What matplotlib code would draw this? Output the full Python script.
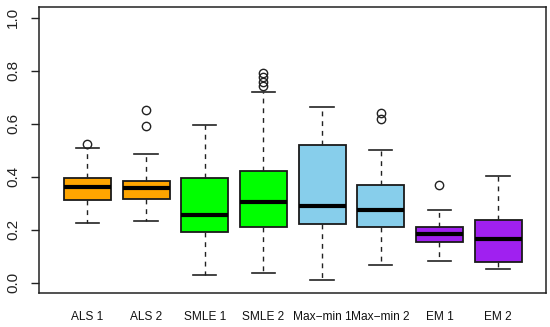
import matplotlib
matplotlib.use("Agg")
import matplotlib.pyplot as plt
from matplotlib import font_manager

labels = ["ALS 1", "ALS 2", "SMLE 1", "SMLE 2", "Max\u2212min 1", "Max\u2212min 2", "EM 1", "EM 2"]
whislo = [0.225, 0.232, 0.028, 0.038, 0.009, 0.067, 0.082, 0.053]
q1     = [0.313, 0.314, 0.190, 0.209, 0.220, 0.210, 0.155, 0.080]
med    = [0.362, 0.356, 0.256, 0.303, 0.290, 0.273, 0.184, 0.164]
q3     = [0.394, 0.385, 0.395, 0.420, 0.521, 0.367, 0.212, 0.236]
whishi = [0.508, 0.484, 0.596, 0.720, 0.662, 0.501, 0.273, 0.404]
fliers = [[0.524], [0.592, 0.652], [], [0.742, 0.757, 0.775, 0.792], [], [0.617, 0.642], [0.368], []]
colors = ["#FFA500", "#FFA500", "#00FF00", "#00FF00", "#87CEEB", "#87CEEB", "#A020F0", "#A020F0"]
yticks = [0.0, 0.2, 0.4, 0.6, 0.8, 1.0]

names = {f.name for f in font_manager.fontManager.ttflist}
base = "Liberation Sans" if "Liberation Sans" in names else "DejaVu Sans"

fig = plt.figure(figsize=(5.5, 3.27), dpi=100)
ax = fig.add_axes([0.0718, 0.103, 0.9209, 0.8756])

stats = []
for i in range(len(labels)):
    stats.append(dict(med=med[i], q1=q1[i], q3=q3[i], whislo=whislo[i],
                      whishi=whishi[i], fliers=fliers[i], label=labels[i]))

bp = ax.bxp(stats, positions=range(1, len(labels) + 1), widths=0.8,
            patch_artist=True, showfliers=True,
            boxprops=dict(edgecolor="#1a1a1a", linewidth=1.3),
            medianprops=dict(color="black", linewidth=3.0, solid_capstyle="butt"),
            whiskerprops=dict(color="#222222", linewidth=1.0, linestyle=(0, (3.5, 3.5))),
            capprops=dict(color="#222222", linewidth=1.2),
            flierprops=dict(marker="o", markerfacecolor="none", markeredgecolor="#222222",
                            markersize=6, markeredgewidth=1.0))
for patch, c in zip(bp["boxes"], colors):
    patch.set_facecolor(c)
for cap in bp["caps"]:
    x = cap.get_xdata()
    m = (x[0] + x[1]) / 2
    cap.set_xdata([m - 0.2, m + 0.2])

ax.set_xlim(0.184, 8.816)
ax.set_ylim(-0.04, 1.04)
ax.set_yticks(yticks)
ax.set_yticklabels(["%.1f" % v for v in yticks], rotation=90, va="center",
                   fontfamily=base, fontsize=11, color="#222222")
ax.tick_params(axis="y", length=6, width=1, pad=8, color="#222222")
ax.set_xticks(range(1, len(labels) + 1))
ax.set_xticklabels(labels, fontfamily=base, fontsize=8.6, color="#111111")
ax.tick_params(axis="x", length=0, pad=13)
for s in ax.spines.values():
    s.set_linewidth(1.1)
    s.set_color("#222222")

fig.savefig("out.png", dpi=100)
